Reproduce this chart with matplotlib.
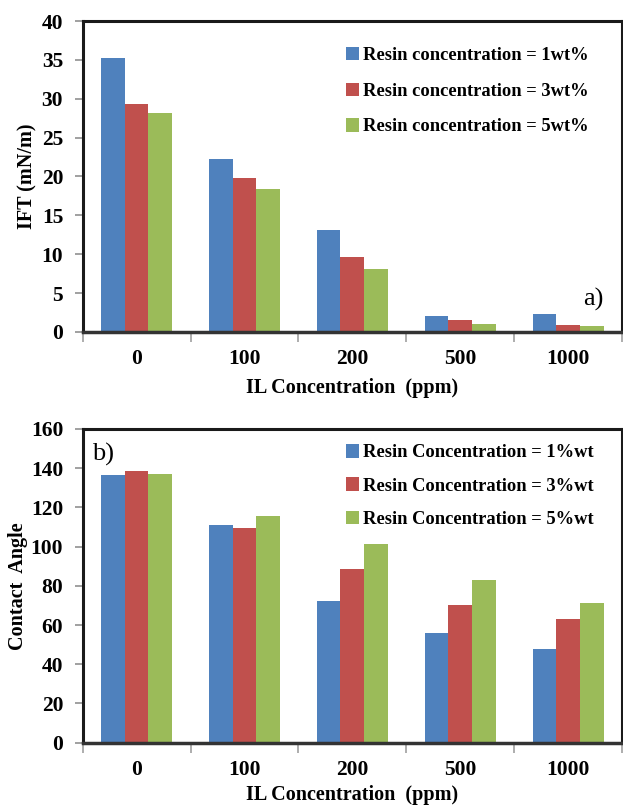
import matplotlib
matplotlib.use("Agg")
import matplotlib.pyplot as plt
from matplotlib.patches import Patch
import numpy as np

plt.rcParams['font.family'] = ['Liberation Serif', 'DejaVu Serif']

categories = ['0', '100', '200', '500', '1000']

ift_labels = ['Resin concentration = 1wt%', 'Resin concentration = 3wt%',
              'Resin concentration = 5wt%']
ift_1 = [35.3, 22.25, 13.1, 2.1, 2.3]
ift_3 = [29.3, 19.8, 9.7, 1.55, 0.85]
ift_5 = [28.2, 18.45, 8.1, 1.05, 0.75]

ca_labels = ['Resin Concentration = 1%wt', 'Resin Concentration = 3%wt',
             'Resin Concentration = 5%wt']
ca_1 = [136.3, 111.1, 72.3, 55.8, 47.8]
ca_3 = [138.6, 109.3, 88.5, 70.0, 63.1]
ca_5 = [137.0, 115.4, 101.3, 82.9, 71.1]

colors = ['#4F81BD', '#C0504D', '#9BBB59']

fig = plt.figure(figsize=(6.23, 8.05), dpi=100)
ax1 = fig.add_axes([0.1326, 0.5876, 0.866, 0.3863])
ax2 = fig.add_axes([0.1326, 0.0774, 0.866, 0.3897])


def draw(ax, series, labels, ymax, ystep, ylabel, tag, tag_pos, leg_anchor,
         leg_spacing, ylabel_pad, xlabel_pad):
    x = np.arange(len(categories))
    w = 0.22
    for i, (vals, c) in enumerate(zip(series, colors)):
        ax.bar(x + (i - 1) * w, vals, width=w, color=c, edgecolor='none',
               zorder=2)
    ax.set_xlim(-0.5, len(categories) - 0.5)
    ax.set_ylim(0, ymax)
    ax.set_yticks(np.arange(0, ymax + 0.1, ystep))
    ax.set_xticks(x)
    ax.set_xticklabels(categories)
    ax.set_xticks(np.arange(-0.5, len(categories), 1.0), minor=True)
    ax.tick_params(axis='x', which='major', length=0, pad=12.5, labelsize=15.5)
    ax.tick_params(axis='x', which='minor', length=7, width=1.2,
                   color='#a0a0a0', direction='out')
    ax.tick_params(axis='y', length=6, width=1.2, color='#909090',
                   labelsize=15.5, pad=8)
    for lab in ax.get_xticklabels() + ax.get_yticklabels():
        lab.set_fontweight('bold')
    for side in ['left', 'top', 'right']:
        ax.spines[side].set_linewidth(2.2)
        ax.spines[side].set_color('#1a1a1a')
    ax.spines['bottom'].set_linewidth(2.5)
    ax.spines['bottom'].set_color('#333333')
    ax.set_xlabel('IL Concentration  (ppm)', fontsize=14.5, fontweight='bold',
                  labelpad=xlabel_pad)
    ax.set_ylabel(ylabel, fontsize=14.5, fontweight='bold',
                  labelpad=ylabel_pad)
    handles = [Patch(facecolor=c, edgecolor='none') for c in colors]
    ax.legend(handles, labels, loc='upper left', bbox_to_anchor=leg_anchor,
              frameon=False, prop={'weight': 'bold', 'size': 13.3},
              handlelength=0.7, handleheight=0.75, handletextpad=0.25,
              labelspacing=leg_spacing, borderaxespad=0, borderpad=0)
    ax.text(tag_pos[0], tag_pos[1], tag, transform=ax.transAxes,
            fontsize=19, ha='left', va='center')


draw(ax1, [ift_1, ift_3, ift_5], ift_labels, 40, 5, 'IFT (mN/m)', 'a)',
     (0.928, 0.105), (0.488, 0.917), 1.0, 3, 6)
draw(ax2, [ca_1, ca_3, ca_5], ca_labels, 160, 20, 'Contact  Angle', 'b)',
     (0.018, 0.92), (0.488, 0.952), 0.87, 2, 3.5)

fig.savefig('out.png', dpi=100)
